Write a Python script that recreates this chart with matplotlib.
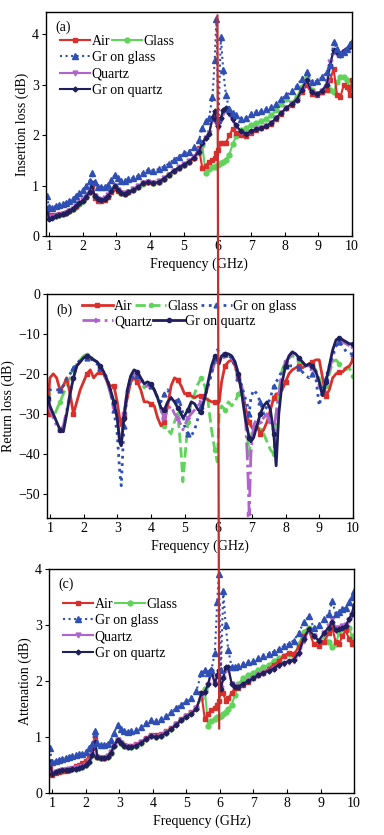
import matplotlib
matplotlib.use("Agg")
import matplotlib.pyplot as plt
from matplotlib.patches import ConnectionPatch

plt.rcParams['font.family'] = ['Liberation Serif', 'DejaVu Serif']
plt.rcParams['font.size'] = 10

# ---------------- data ----------------
freq_ac = [0.93, 1.0, 1.1, 1.2, 1.3, 1.4, 1.5, 1.6, 1.7, 1.8,
           1.9, 2.0, 2.1, 2.2, 2.27, 2.35, 2.45, 2.55, 2.65, 2.75,
           2.85, 2.95, 3.05, 3.15, 3.25, 3.35, 3.5, 3.65, 3.8, 3.95,
           4.1, 4.25, 4.4, 4.55, 4.7, 4.85, 5.0, 5.15, 5.3, 5.45,
           5.55, 5.65, 5.75, 5.85, 5.92, 5.97, 6.03, 6.1, 6.17, 6.25,
           6.35, 6.45, 6.55, 6.7, 6.85, 7.0, 7.15, 7.3, 7.45, 7.6,
           7.75, 7.9, 8.05, 8.2, 8.35, 8.5, 8.65, 8.8, 8.95, 9.1,
           9.25, 9.35, 9.45, 9.55, 9.65, 9.75, 9.85, 9.93, 10.0]

# (a) insertion loss, dB
il_air = [0.50, 0.40, 0.42, 0.43, 0.44, 0.45, 0.47, 0.50, 0.55, 0.60,
          0.65, 0.72, 0.78, 0.88, 1.00, 0.75, 0.70, 0.70, 0.72, 0.78,
          0.88, 0.95, 0.90, 0.85, 0.84, 0.87, 0.92, 0.98, 1.05, 1.08,
          1.06, 1.08, 1.14, 1.22, 1.30, 1.36, 1.42, 1.48, 1.56, 1.75,
          1.35, 1.40, 1.48, 1.52, 1.55, 1.65, 1.70, 1.85, 1.85, 1.85,
          2.00, 2.12, 2.05, 2.00, 1.98, 2.05, 2.10, 2.15, 2.18, 2.22,
          2.32, 2.42, 2.55, 2.60, 2.70, 2.85, 3.00, 2.82, 2.80, 2.85,
          2.90, 3.10, 3.32, 2.80, 2.75, 3.00, 2.95, 2.80, 3.10]
il_glass = [0.55, 0.36, 0.38, 0.40, 0.42, 0.44, 0.46, 0.50, 0.54, 0.59,
            0.64, 0.70, 0.77, 0.87, 1.02, 0.80, 0.73, 0.72, 0.74, 0.80,
            0.89, 0.98, 0.92, 0.86, 0.84, 0.87, 0.92, 0.98, 1.04, 1.07,
            1.05, 1.08, 1.14, 1.21, 1.29, 1.35, 1.41, 1.47, 1.55, 1.65,
            1.80, 1.25, 1.33, 1.37, 1.38, 1.40, 1.42, 1.45, 1.48, 1.52,
            1.62, 1.82, 1.98, 2.10, 2.15, 2.20, 2.25, 2.28, 2.32, 2.40,
            2.50, 2.62, 2.72, 2.65, 2.75, 2.95, 3.15, 2.90, 2.82, 2.85,
            2.95, 2.90, 2.85, 3.05, 3.15, 3.15, 3.10, 2.95, 2.85]
il_gr_glass = [0.80, 0.58, 0.57, 0.60, 0.62, 0.64, 0.66, 0.70, 0.74, 0.80,
               0.86, 0.92, 1.00, 1.10, 1.25, 1.08, 0.98, 0.97, 0.98, 1.02,
               1.12, 1.22, 1.15, 1.10, 1.10, 1.13, 1.16, 1.20, 1.26, 1.32,
               1.30, 1.33, 1.38, 1.44, 1.52, 1.58, 1.65, 1.68, 1.76, 1.90,
               2.15, 2.28, 2.35, 2.75, 3.50, 4.30, 2.30, 3.95, 3.30, 2.80,
               2.52, 2.45, 2.40, 2.33, 2.35, 2.42, 2.46, 2.48, 2.52, 2.56,
               2.62, 2.72, 2.80, 2.88, 2.98, 3.12, 3.25, 3.05, 3.08, 3.15,
               3.25, 3.40, 3.85, 3.72, 3.62, 3.65, 3.72, 3.80, 3.85]
il_quartz = [0.56, 0.37, 0.38, 0.41, 0.42, 0.44, 0.47, 0.50, 0.55, 0.60,
             0.65, 0.71, 0.78, 0.89, 1.04, 0.80, 0.74, 0.72, 0.75, 0.81,
             0.90, 0.99, 0.92, 0.85, 0.85, 0.88, 0.93, 0.99, 1.05, 1.08,
             1.05, 1.09, 1.15, 1.22, 1.30, 1.37, 1.43, 1.49, 1.57, 1.70,
             1.85, 1.95, 2.05, 2.30, 2.45, 2.25, 2.15, 2.30, 2.45, 2.50,
             2.42, 2.30, 2.18, 2.07, 2.03, 2.07, 2.12, 2.15, 2.18, 2.24,
             2.34, 2.44, 2.55, 2.62, 2.70, 2.90, 3.08, 2.85, 2.82, 2.88,
             3.05, 3.45, 3.65, 3.62, 3.60, 3.66, 3.70, 3.76, 3.80]
il_gr_quartz = [0.55, 0.35, 0.37, 0.40, 0.42, 0.44, 0.46, 0.50, 0.55, 0.60,
                0.65, 0.70, 0.78, 0.88, 1.05, 0.80, 0.73, 0.72, 0.74, 0.80,
                0.90, 1.00, 0.92, 0.85, 0.84, 0.87, 0.92, 0.98, 1.05, 1.08,
                1.05, 1.08, 1.14, 1.22, 1.30, 1.36, 1.42, 1.48, 1.56, 1.68,
                1.85, 1.95, 2.02, 2.35, 2.48, 2.30, 2.18, 2.35, 2.50, 2.55,
                2.45, 2.32, 2.20, 2.08, 2.03, 2.08, 2.12, 2.15, 2.18, 2.25,
                2.35, 2.45, 2.55, 2.62, 2.70, 2.90, 3.10, 2.85, 2.82, 2.88,
                3.00, 3.40, 3.70, 3.65, 3.60, 3.68, 3.72, 3.78, 3.82]

# (c) attenuation, dB
at_air = [0.45, 0.32, 0.36, 0.38, 0.40, 0.40, 0.42, 0.45, 0.48, 0.50,
          0.54, 0.58, 0.65, 0.80, 1.00, 0.65, 0.62, 0.63, 0.66, 0.72,
          0.86, 0.95, 0.90, 0.86, 0.84, 0.84, 0.87, 0.92, 0.98, 1.04,
          1.03, 1.05, 1.10, 1.16, 1.24, 1.32, 1.38, 1.44, 1.52, 1.78,
          1.32, 1.42, 1.48, 1.52, 1.58, 1.65, 1.80, 1.78, 1.65, 1.70,
          1.78, 1.88, 1.88, 1.92, 1.98, 2.05, 2.10, 2.15, 2.22, 2.28,
          2.35, 2.45, 2.50, 2.48, 2.60, 2.80, 2.90, 2.65, 2.62, 2.70,
          2.85, 2.95, 2.70, 2.65, 2.80, 2.90, 2.75, 2.65, 2.70]
at_glass = [0.53, 0.34, 0.37, 0.39, 0.40, 0.41, 0.42, 0.43, 0.44, 0.45,
            0.46, 0.50, 0.56, 0.68, 0.90, 0.64, 0.62, 0.62, 0.65, 0.72,
            0.84, 0.94, 0.89, 0.85, 0.82, 0.82, 0.85, 0.90, 0.96, 1.02,
            1.00, 1.02, 1.08, 1.15, 1.23, 1.31, 1.37, 1.43, 1.51, 1.70,
            1.85, 1.20, 1.28, 1.32, 1.35, 1.36, 1.38, 1.42, 1.45, 1.50,
            1.58, 1.75, 1.95, 2.05, 2.10, 2.15, 2.20, 2.25, 2.28, 2.35,
            2.40, 2.45, 2.48, 2.42, 2.65, 2.88, 2.95, 2.80, 2.72, 2.80,
            2.70, 2.60, 2.65, 2.85, 2.95, 2.98, 2.95, 2.80, 2.65]
at_gr_glass = [0.80, 0.55, 0.57, 0.60, 0.61, 0.63, 0.65, 0.67, 0.68, 0.70,
               0.70, 0.74, 0.80, 0.88, 1.10, 0.90, 0.86, 0.86, 0.88, 0.95,
               1.08, 1.22, 1.15, 1.10, 1.09, 1.10, 1.13, 1.18, 1.25, 1.30,
               1.28, 1.32, 1.38, 1.44, 1.52, 1.58, 1.64, 1.70, 1.82, 2.15,
               2.20, 2.15, 2.20, 2.50, 3.40, 3.90, 2.20, 3.60, 3.00, 2.55,
               2.25, 2.25, 2.27, 2.30, 2.33, 2.35, 2.40, 2.45, 2.48, 2.52,
               2.56, 2.62, 2.66, 2.72, 2.85, 3.05, 3.15, 2.95, 3.00, 3.10,
               3.20, 3.42, 3.20, 3.22, 3.28, 3.30, 3.40, 3.50, 3.60]
at_quartz = [0.55, 0.36, 0.38, 0.40, 0.41, 0.42, 0.43, 0.44, 0.45, 0.46,
             0.47, 0.51, 0.57, 0.69, 0.92, 0.65, 0.62, 0.63, 0.66, 0.73,
             0.85, 0.95, 0.90, 0.85, 0.82, 0.83, 0.86, 0.91, 0.97, 1.02,
             1.00, 1.03, 1.09, 1.15, 1.23, 1.31, 1.37, 1.43, 1.51, 1.75,
             1.78, 1.92, 2.15, 1.95, 2.08, 2.15, 1.88, 2.05, 2.20, 2.22,
             1.95, 1.90, 1.90, 1.95, 2.00, 2.05, 2.10, 2.14, 2.17, 2.21,
             2.27, 2.31, 2.34, 2.36, 2.48, 2.72, 2.90, 2.80, 2.72, 2.85,
             2.98, 3.10, 2.95, 2.95, 2.98, 3.00, 3.08, 3.18, 3.30]
at_gr_quartz = [0.55, 0.35, 0.38, 0.40, 0.41, 0.42, 0.42, 0.43, 0.44, 0.45,
                0.46, 0.50, 0.56, 0.68, 0.92, 0.65, 0.62, 0.62, 0.65, 0.72,
                0.85, 0.95, 0.90, 0.85, 0.82, 0.82, 0.85, 0.90, 0.96, 1.02,
                1.00, 1.02, 1.08, 1.14, 1.22, 1.30, 1.36, 1.42, 1.50, 1.78,
                1.80, 1.95, 2.20, 1.95, 2.10, 2.20, 1.85, 2.05, 2.25, 2.25,
                1.95, 1.90, 1.90, 1.95, 2.00, 2.05, 2.10, 2.15, 2.18, 2.22,
                2.28, 2.32, 2.35, 2.38, 2.50, 2.75, 2.92, 2.80, 2.72, 2.85,
                2.95, 3.05, 2.90, 2.92, 2.95, 2.98, 3.10, 3.20, 3.35]

freq_b = [0.93, 1.0, 1.1, 1.2, 1.3, 1.4, 1.5, 1.6, 1.7, 1.8,
          1.9, 2.0, 2.1, 2.2, 2.3, 2.4, 2.5, 2.6, 2.7, 2.8,
          2.9, 3.0, 3.07, 3.12, 3.2, 3.3, 3.4, 3.5, 3.6, 3.7,
          3.8, 3.9, 4.0, 4.1, 4.2, 4.3, 4.4, 4.5, 4.6, 4.7,
          4.8, 4.9, 4.95, 5.0, 5.1, 5.2, 5.3, 5.4, 5.5, 5.6,
          5.7, 5.8, 5.9, 5.97, 6.03, 6.1, 6.2, 6.3, 6.4, 6.5,
          6.6, 6.7, 6.8, 6.87, 6.92, 6.97, 7.05, 7.15, 7.25, 7.35,
          7.45, 7.55, 7.65, 7.72, 7.8, 7.9, 8.0, 8.1, 8.2, 8.3,
          8.4, 8.5, 8.6, 8.7, 8.8, 8.9, 9.0, 9.1, 9.2, 9.3,
          9.4, 9.5, 9.6, 9.7, 9.8, 9.9, 10.0]

# (b) return loss, dB
rl_air = [-30, -21, -20, -21, -24, -23, -21, -25, -30, -27,
          -24, -22, -20, -19, -21, -20, -19.5, -20, -22, -23,
          -23, -27, -31, -33, -30, -26, -22, -21, -22, -24,
          -27, -27, -27.5, -28, -31, -33, -32, -28, -23, -21,
          -21.5, -23, -24, -25, -25, -25.5, -26, -25.5, -25.5, -26,
          -26.5, -27, -27, -27.5, -27, -22, -18, -17, -16.5, -18,
          -21, -24, -28, -31, -32, -33, -34, -33, -35, -34,
          -32, -29, -26, -25, -25, -24, -22, -20, -19, -18.5,
          -18, -18.5, -18, -17.5, -17, -16.5, -16.5, -21, -25.5, -24,
          -21, -20, -19.5, -19.5, -18.5, -18, -16.5]
rl_glass = [-25, -29, -31, -29, -27, -25, -23, -21, -19, -17.5,
            -16.5, -15.5, -15.2, -15.5, -16.5, -17, -18.5, -20, -22, -24,
            -27, -31, -36, -37, -31, -25, -21, -20, -20.5, -22,
            -23.5, -23, -23, -24, -26, -29, -33, -34, -35, -32,
            -30, -40, -47, -42, -32, -27, -25, -22.5, -21, -23,
            -27, -34, -39, -42, -30, -28, -29, -27, -28, -27,
            -25, -24, -28, -36, -40, -36, -33, -33, -34, -35,
            -37, -39, -40, -30, -24, -19, -17, -16, -15.5, -16,
            -17, -17.5, -18, -18, -18, -19, -21, -24, -23, -20,
            -17, -16.5, -17.5, -18.5, -19, -18.5, -20.5]
rl_gr_glass = [-26, -24, -24, -24, -24, -23, -21, -20, -18.5, -17.5,
               -16.5, -16, -16, -16, -17, -17.5, -18.5, -19.5, -21, -24,
               -29, -35, -44, -48, -33, -25, -22, -20, -20.5, -21.5,
               -22, -22.5, -23, -24, -26, -27, -25, -24, -26, -27,
               -26.5, -28, -30, -33, -35, -35.5, -34, -31, -28, -26,
               -23, -20, -16, -14, -14.5, -15, -15, -15.5, -16, -18,
               -21, -23, -26, -28, -30, -26, -24, -25, -27, -30,
               -28, -26, -23, -22, -21, -19, -18, -18, -18, -18,
               -18.5, -19.5, -20.5, -21, -20, -21, -28, -24, -21, -18,
               -15, -13, -12, -13, -14.5, -15, -15]
rl_quartz = [-27, -29, -31, -33, -34, -33, -29, -25, -21, -18,
             -17, -16, -15.5, -16, -16.5, -17, -18.5, -20, -22, -25,
             -28, -31, -36, -37, -30, -24, -21, -20, -20.5, -22,
             -23, -23, -23, -24, -26, -29, -31, -29, -28, -30,
             -31, -33, -34, -33, -31, -30, -29, -28, -27, -26,
             -23, -20, -17, -16.5, -16, -15.5, -15.5, -15.5, -16, -17.5,
             -20, -23, -29, -42, -55, -40, -33, -31, -32, -31,
             -30, -33, -34, -30, -25, -20, -17, -16, -15, -15.5,
             -16, -17, -18, -18, -18.5, -20, -23, -25, -22, -19,
             -16, -13, -12, -12, -12.5, -13, -13]
rl_gr_quartz = [-26, -28, -30, -32, -34, -34.5, -30, -25, -21, -18,
                -17, -16, -15.5, -15.8, -16.5, -17, -18, -19.5, -21.5, -24,
                -27, -31, -37, -38, -31, -24, -20.5, -19, -19.5, -21,
                -22.5, -22, -22.5, -24, -26, -28.5, -29, -27, -26, -27,
                -28.5, -30, -31, -30.5, -29, -27, -27.5, -29, -29.5, -26,
                -22, -18, -15.5, -16, -17.5, -15.5, -15, -15, -15.5, -17,
                -20, -25, -31, -34, -36, -37, -36, -33, -30, -28,
                -27, -29, -35, -43, -30, -22, -18, -15.5, -14.5, -15,
                -16, -17, -18, -17.5, -18, -19.5, -22, -25.5, -22, -18,
                -14, -11.5, -11, -11.5, -12, -12.5, -12.5]

labels = ['Air', 'Glass', 'Gr on glass', 'Quartz', 'Gr on quartz']
colors = ['#d9302c', '#5fd35a', '#2f4fb4', '#b063cc', '#1e1f5c']
xticks = [1, 2, 3, 4, 5, 6, 7, 8, 9, 10]


def style_axis(ax, ylabel, ylim, yticks):
    ax.set_xlim(0.91, 10.0)
    ax.set_ylim(*ylim)
    ax.set_xticks(xticks)
    ax.set_yticks(yticks)
    ax.tick_params(axis='x', direction='in', length=3, pad=3, labelsize=10)
    ax.tick_params(axis='y', direction='out', length=3, pad=2, labelsize=10)
    ax.set_xlabel('Frequency (GHz)', fontsize=10, labelpad=3)
    ax.set_ylabel(ylabel, fontsize=10, labelpad=2)
    for s in ax.spines.values():
        s.set_linewidth(1.0)


def draw_markers_panel(ax, series, leg_top):
    # series in order: air, glass, gr_glass, quartz, gr_quartz
    air, glass, grg, qz, grq = series
    h_glass, = ax.plot(freq_ac, glass, '-', color=colors[1], lw=1.5, marker='o', ms=3.5, mec=colors[1])
    h_air, = ax.plot(freq_ac, air, '-', color=colors[0], lw=1.5, marker='s', ms=3, mec=colors[0])
    h_q, = ax.plot(freq_ac, qz, '-', color=colors[3], lw=1.5, marker='v', ms=3.5, mec=colors[3])
    h_grq, = ax.plot(freq_ac, grq, '-', color=colors[4], lw=1.5, marker='D', ms=2.5, mec=colors[4])
    h_grg, = ax.plot(freq_ac, grg, ':', color=colors[2], lw=1.5, marker='^', ms=4, mec=colors[2])
    leg1 = ax.legend([h_air, h_glass], labels[:2], ncol=2, loc='upper left',
                     bbox_to_anchor=(0.045, leg_top), frameon=False, fontsize=10,
                     handlelength=2.2, handletextpad=0.1, columnspacing=0.1,
                     borderpad=0, borderaxespad=0)
    ax.add_artist(leg1)
    ax.legend([h_grg, h_q, h_grq], labels[2:], ncol=1, loc='upper left',
              bbox_to_anchor=(0.045, leg_top - 0.07), frameon=False, fontsize=10,
              handlelength=2.2, handletextpad=0.1, labelspacing=0.25,
              borderpad=0, borderaxespad=0)


fig = plt.figure(figsize=(3.84, 8.35), dpi=100)
ax_a = fig.add_axes([0.120, 0.717, 0.797, 0.269])
ax_b = fig.add_axes([0.122, 0.380, 0.797, 0.268])
ax_c = fig.add_axes([0.128, 0.050, 0.794, 0.269])

# (a)
draw_markers_panel(ax_a, [il_air, il_glass, il_gr_glass, il_quartz, il_gr_quartz], 0.895)
style_axis(ax_a, 'Insertion loss (dB)', (0, 4.45), [0, 1, 2, 3, 4])
ax_a.text(0.03, 0.96, '(a)', transform=ax_a.transAxes, ha='left', va='top', fontsize=10)

# (b)
hb_glass, = ax_b.plot(freq_b, rl_glass, '--', color=colors[1], lw=2, marker='o', ms=3, markevery=4)
hb_air, = ax_b.plot(freq_b, rl_air, '-', color=colors[0], lw=2, marker='s', ms=2.5, markevery=4)
hb_q, = ax_b.plot(freq_b, rl_quartz, '-.', color=colors[3], lw=2, marker='>', ms=3, markevery=4)
hb_grg, = ax_b.plot(freq_b, rl_gr_glass, ':', color=colors[2], lw=2, marker='^', ms=3.5, markevery=4)
hb_grq, = ax_b.plot(freq_b, rl_gr_quartz, '-', color=colors[4], lw=2, marker='o', ms=3, markevery=4)
style_axis(ax_b, 'Return loss (dB)', (-56, 0), [-50, -40, -30, -20, -10, 0])
ax_b.text(0.03, 0.955, '(b)', transform=ax_b.transAxes, ha='left', va='top', fontsize=10)
lb1 = ax_b.legend([hb_air, hb_glass, hb_grg], labels[:3], ncol=3, loc='upper left',
                  bbox_to_anchor=(0.115, 0.975), frameon=False, fontsize=10,
                  handlelength=2.2, handletextpad=0.1, columnspacing=0.2,
                  borderpad=0, borderaxespad=0)
ax_b.add_artist(lb1)
ax_b.legend([hb_q, hb_grq], labels[3:], ncol=2, loc='upper left',
            bbox_to_anchor=(0.115, 0.905), frameon=False, fontsize=10,
            handlelength=2.2, handletextpad=0.1, columnspacing=0.1,
            borderpad=0, borderaxespad=0)

# (c)
draw_markers_panel(ax_c, [at_air, at_glass, at_gr_glass, at_quartz, at_gr_quartz], 0.87)
style_axis(ax_c, 'Attenation (dB)', (0, 4), [0, 1, 2, 3, 4])
ax_c.text(0.03, 0.96, '(c)', transform=ax_c.transAxes, ha='left', va='top', fontsize=10)

# stray red vertical line through all three panels at 6 GHz
con = ConnectionPatch(xyA=(6.0, 4.38), coordsA=ax_a.transData,
                      xyB=(5.98, 1.15), coordsB=ax_c.transData,
                      color='#c0302c', lw=1.6, zorder=10)
fig.add_artist(con)

fig.savefig('out.png', dpi=100)
